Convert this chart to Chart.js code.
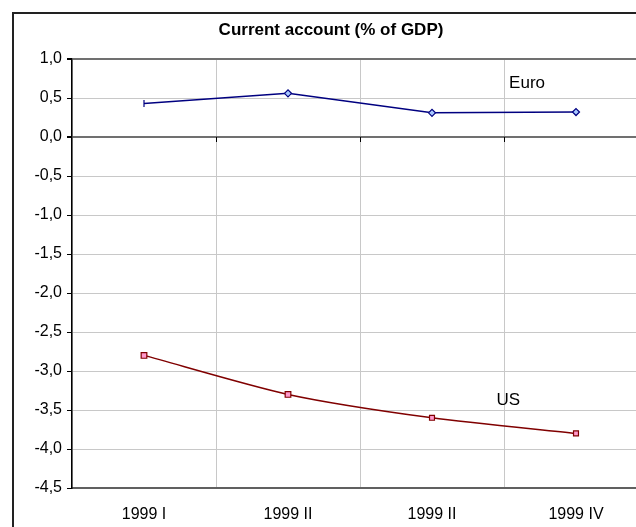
<!DOCTYPE html>
<html>
<head>
<meta charset="utf-8">
<script src="https://cdn.jsdelivr.net/npm/chart.js@4.4.1/dist/chart.umd.min.js"></script>
<style>
  html, body { margin: 0; padding: 0; background: #fff; overflow: hidden; }
  #wrap { position: relative; width: 636px; height: 527px; overflow: hidden; }
  #frame { position: absolute; left: 12px; top: 12px; width: 700px; height: 600px; border: 2px solid #222; }
  #chart { position: absolute; left: 0; top: 0; }
</style>
</head>
<body>
<div id="wrap">
  <div id="frame"></div>
  <canvas id="chart" width="662" height="527"></canvas>
</div>
<script>
// data
const quarters = ['1999 I', '1999 II', '1999 II', '1999 IV'];
const euroValues = [0.43, 0.56, 0.31, 0.32];
const usValues = [-2.8, -3.3, -3.6, -3.8];
const yTicks = [1.0, 0.5, 0.0, -0.5, -1.0, -1.5, -2.0, -2.5, -3.0, -3.5, -4.0, -4.5];

// series name labels, placed in data units (category index, value)
const seriesLabels = [
  { text: 'Euro', at: [2.66, 0.69] },
  { text: 'US', at: [2.53, -3.37] }
];

const FONT = '"Liberation Sans", Arial, sans-serif';

// series names + small ticks on the zero line
const extras = {
  id: 'extras',
  afterDatasetsDraw(chart) {
    const ctx = chart.ctx;
    const x = chart.scales.x;
    const y = chart.scales.y;
    const y0 = y.getPixelForValue(0);
    ctx.save();
    ctx.strokeStyle = '#000';
    ctx.lineWidth = 1;
    for (let i = 1; i < quarters.length; i++) {
      const px = Math.round(x.getPixelForValue(i - 0.5)) + 0.5;
      ctx.beginPath();
      ctx.moveTo(px, y0);
      ctx.lineTo(px, y0 + 5);
      ctx.stroke();
    }
    ctx.fillStyle = '#000';
    ctx.font = '17px ' + FONT;
    ctx.textAlign = 'center';
    ctx.textBaseline = 'middle';
    seriesLabels.forEach(function (l) {
      ctx.fillText(l.text, x.getPixelForValue(l.at[0]), y.getPixelForValue(l.at[1]));
    });
    ctx.restore();
  }
};

new Chart(document.getElementById('chart'), {
  type: 'line',
  data: {
    labels: quarters,
    datasets: [{
        label: 'Euro',
        data: euroValues,
        borderColor: '#000080',
        borderWidth: 1.5,
        tension: 0,
        pointStyle: ['line', 'rectRot', 'rectRot', 'rectRot'],
        pointRotation: [90, 0, 0, 0],
        pointRadius: 3.5,
        pointBorderWidth: 1.2,
        pointBorderColor: '#000080',
        pointBackgroundColor: '#a8c8ff'
      },
      {
        label: 'US',
        data: usValues,
        borderColor: '#800000',
        borderWidth: 1.5,
        tension: 0.25,
        pointStyle: 'rect',
        pointRadius: [4, 4, 3.5, 3.5],
        pointBorderWidth: 1.2,
        pointBorderColor: '#800000',
        pointBackgroundColor: '#ff99cc'
      }
    ]
  },
  options: {
    responsive: false,
    animation: false,
    devicePixelRatio: 1,
    layout: { padding: { left: 14, right: 14, top: 0, bottom: 0 } },
    plugins: {
      legend: { display: false },
      tooltip: { enabled: false },
      title: {
        display: true,
        text: 'Current account (% of GDP)',
        color: '#000',
        font: { family: FONT, size: 17, weight: 'bold' },
        padding: { top: 20, bottom: 18.6 }
      }
    },
    scales: {
      x: {
        offset: true,
        grid: { offset: true, color: '#c8c8c8', lineWidth: 1, drawTicks: false },
        border: { color: '#606060', width: 2 },
        ticks: { color: '#000', font: { family: FONT, size: 16 }, padding: 17, maxRotation: 0 },
        afterFit: function (s) { s.height = 39; }
      },
      y: {
        min: -4.5,
        max: 1.0,
        afterBuildTicks: function (s) {
          s.ticks = yTicks.map(function (v) { return { value: v }; });
        },
        grid: {
          color: function (c) {
            return (c.tick && (c.tick.value === 0 || c.tick.value === 1)) ? '#707070' : '#c8c8c8';
          },
          lineWidth: function (c) {
            return (c.tick && (c.tick.value === 0 || c.tick.value === 1)) ? 2 : 1;
          },
          tickColor: '#000',
          tickLength: 5
        },
        border: { color: '#000', width: 1.5 },
        ticks: {
          color: '#000',
          font: { family: FONT, size: 16 },
          padding: 5,
          callback: function (v) { return v.toFixed(1).replace('.', ','); }
        },
        afterFit: function (s) { s.width = 58; }
      }
    }
  },
  plugins: [extras]
});
</script>
</body>
</html>
